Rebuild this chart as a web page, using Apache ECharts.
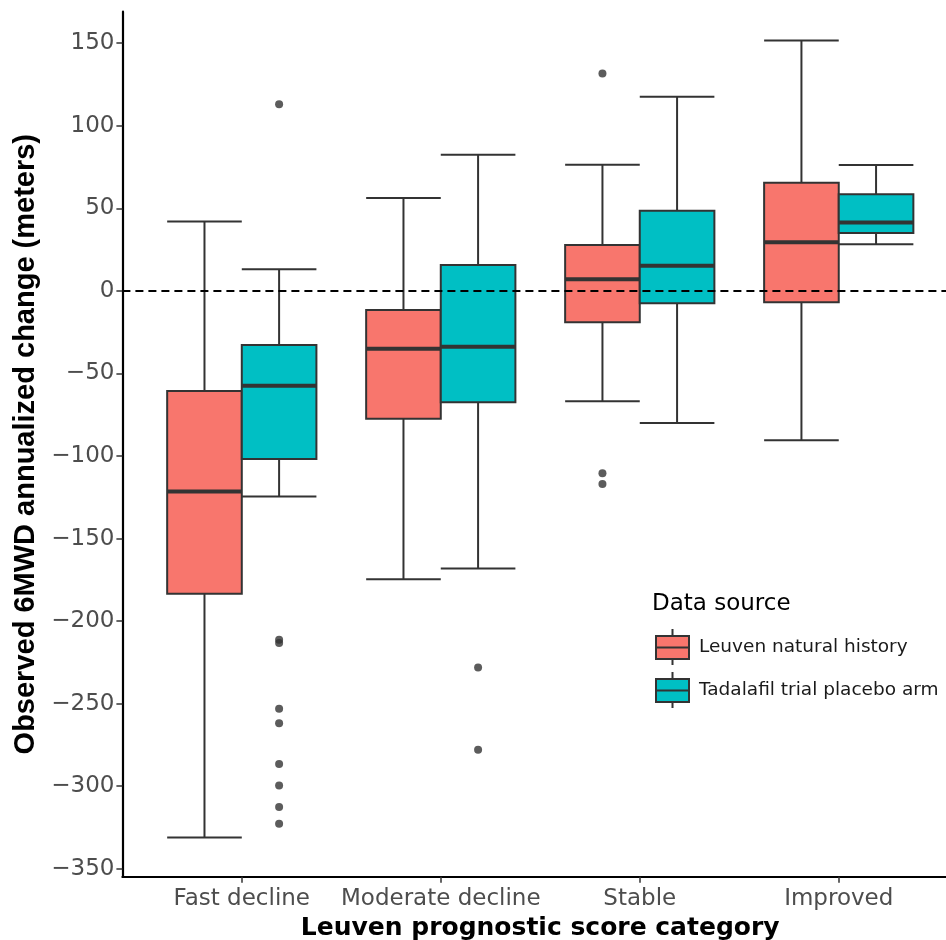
<!DOCTYPE html>
<html>
<head>
<meta charset="utf-8">
<script src="https://cdn.jsdelivr.net/npm/echarts@6/dist/echarts.min.js"></script>
<style>
html,body{margin:0;padding:0;background:#fff;}
#chart{width:946px;height:940px;}
</style>
</head>
<body>
<div id="chart"></div>
<script>
// ---- Data ----
const categories = ['Fast decline', 'Moderate decline', 'Stable', 'Improved'];
const seriesNames = ['Leuven natural history', 'Tadalafil trial placebo arm'];
// [lower whisker, Q1, median, Q3, upper whisker]
const leuvenStats = [
  [-331.0, -183.5, -121.5, -60.6, 42.0],
  [-174.6, -77.4, -35.0, -11.6, 56.2],
  [-66.8, -19.0, 7.0, 27.8, 76.4],
  [-90.4, -6.9, 29.4, 65.5, 151.7]
];
const tadalafilStats = [
  [-124.6, -101.8, -57.4, -32.7, 13.1],
  [-168.2, -67.4, -33.8, 15.7, 82.4],
  [-80.0, -7.5, 15.3, 48.5, 117.6],
  [28.2, 35.0, 41.5, 58.5, 76.2]
];
// outliers: [category index, value]
const leuvenOutliers = [[2, 131.7], [2, -110.4], [2, -116.9]];
const tadalafilOutliers = [
  [0, 113.0], [0, -211.3], [0, -213.3], [0, -253.1], [0, -261.8],
  [0, -286.6], [0, -299.5], [0, -312.6], [0, -322.7],
  [1, -228.1], [1, -277.9]
];
const yTicks = [150, 100, 50, 0, -50, -100, -150, -200, -250, -300, -350];

// ---- Styling ----
const colors = ['#F8766D', '#00BFC4'];
const dodge = 0.1875;     // half of dodge width
const boxWidth = 0.375;   // in category units
const lineCol = '#333333';

function boxData(stats, offset) {
  return stats.map((s, i) => [i + 1 + offset, s[0], s[1], s[2], s[3], s[4]]);
}
function outData(list, offset) {
  return list.map(o => [o[0] + 1 + offset, o[1]]);
}

function renderBox(color) {
  return function (params, api) {
    const x = api.value(0);
    const pMin = api.coord([x, api.value(1)]);
    const pQ1 = api.coord([x, api.value(2)]);
    const pMed = api.coord([x, api.value(3)]);
    const pQ3 = api.coord([x, api.value(4)]);
    const pMax = api.coord([x, api.value(5)]);
    const hw = api.size([boxWidth, 0])[0] / 2;
    const cx = pMed[0];
    const ls = { stroke: lineCol, lineWidth: 2, fill: null };
    return {
      type: 'group',
      children: [
        { type: 'line', shape: { x1: cx, y1: pMax[1], x2: cx, y2: pQ3[1] }, style: ls },
        { type: 'line', shape: { x1: cx, y1: pQ1[1], x2: cx, y2: pMin[1] }, style: ls },
        { type: 'line', shape: { x1: cx - hw, y1: pMax[1], x2: cx + hw, y2: pMax[1] }, style: ls },
        { type: 'line', shape: { x1: cx - hw, y1: pMin[1], x2: cx + hw, y2: pMin[1] }, style: ls },
        { type: 'rect', shape: { x: cx - hw, y: pQ3[1], width: 2 * hw, height: pQ1[1] - pQ3[1] },
          style: { fill: color, stroke: lineCol, lineWidth: 2 } },
        { type: 'line', shape: { x1: cx - hw, y1: pMed[1], x2: cx + hw, y2: pMed[1] },
          style: { stroke: lineCol, lineWidth: 4 } }
      ]
    };
  };
}

const legendIcon = 'path://M16.5,0 L16.5,7 M0,7 L33,7 L33,30 L0,30 Z M0,18.5 L33,18.5 M16.5,30 L16.5,36';

const chart = echarts.init(document.getElementById('chart'), null, { renderer: 'canvas' });
chart.setOption({
  backgroundColor: '#ffffff',
  animation: false,
  title: {
    text: 'Data source',
    left: 652,
    top: 593,
    padding: 0,
    textStyle: { fontFamily: 'DejaVu Sans', fontSize: 23, fontWeight: 'normal', color: '#000' }
  },
  legend: {
    orient: 'vertical',
    left: 655,
    top: 628,
    padding: 0,
    itemWidth: 33,
    itemHeight: 36,
    itemGap: 5,
    data: [
      { name: seriesNames[0], icon: legendIcon, itemStyle: { color: colors[0], borderColor: lineCol, borderWidth: 2 } },
      { name: seriesNames[1], icon: legendIcon, itemStyle: { color: colors[1], borderColor: lineCol, borderWidth: 2 } }
    ],
    textStyle: { fontFamily: 'DejaVu Sans', fontSize: 18.5, color: '#1a1a1a', padding: [0, 0, 0, 5] }
  },
  grid: { left: 122.4, right: 0, top: 11.7, bottom: 63.3, containLabel: false, outerBoundsMode: 'none' },
  xAxis: {
    type: 'value',
    min: 0.4,
    max: 4.539,
    splitLine: { show: false },
    axisLine: { show: true, onZero: false, lineStyle: { color: '#000', width: 2.2 } },
    axisTick: { show: true, length: 6, customValues: [1, 2, 3, 4], lineStyle: { color: lineCol, width: 1.5 } },
    axisLabel: {
      customValues: [1, 2, 3, 4],
      formatter: v => categories[Math.round(v) - 1] || '',
      fontFamily: 'DejaVu Sans', fontSize: 23, color: '#4D4D4D', margin: 11
    },
    name: 'Leuven prognostic score category',
    nameLocation: 'middle',
    nameGap: 26,
    nameTextStyle: { fontFamily: 'DejaVu Sans', fontWeight: 'bold', fontSize: 25, color: '#000', padding: [0, 0, 0, 12] }
  },
  yAxis: {
    type: 'value',
    min: -354.8,
    max: 169.1,
    splitLine: { show: false },
    axisLine: { show: true, onZero: false, lineStyle: { color: '#000', width: 2.2 } },
    axisTick: { show: true, length: 6, customValues: yTicks, lineStyle: { color: lineCol, width: 1.5 } },
    axisLabel: {
      customValues: yTicks,
      formatter: v => (v < 0 ? '\u2212' + Math.abs(v) : String(v)),
      fontFamily: 'DejaVu Sans', fontSize: 23, color: '#4D4D4D', margin: 8
    },
    name: 'Observed 6MWD annualized change (meters)',
    nameLocation: 'middle',
    nameGap: 77,
    nameTextStyle: { fontFamily: 'Liberation Sans', fontWeight: 'bold', fontSize: 29, color: '#000' }
  },
  series: [
    {
      name: 'zero',
      type: 'line',
      data: [],
      z: 1,
      markLine: {
        silent: true,
        symbol: ['none', 'none'],
        label: { show: false },
        lineStyle: { color: '#000', width: 2, type: [8, 5] },
        data: [{ yAxis: 0 }]
      }
    },
    {
      name: seriesNames[0], type: 'custom', z: 3,
      itemStyle: { color: colors[0], borderColor: lineCol, borderWidth: 2 },
      renderItem: renderBox(colors[0]),
      encode: { x: 0, y: [1, 2, 3, 4, 5] },
      data: boxData(leuvenStats, -dodge)
    },
    {
      name: seriesNames[1], type: 'custom', z: 3,
      itemStyle: { color: colors[1], borderColor: lineCol, borderWidth: 2 },
      renderItem: renderBox(colors[1]),
      encode: { x: 0, y: [1, 2, 3, 4, 5] },
      data: boxData(tadalafilStats, dodge)
    },
    {
      name: 'out1', type: 'scatter', z: 4, symbolSize: 8,
      itemStyle: { color: lineCol },
      data: outData(leuvenOutliers, -dodge)
    },
    {
      name: 'out2', type: 'scatter', z: 4, symbolSize: 8,
      itemStyle: { color: lineCol },
      data: outData(tadalafilOutliers, dodge)
    }
  ]
});
</script>
</body>
</html>
